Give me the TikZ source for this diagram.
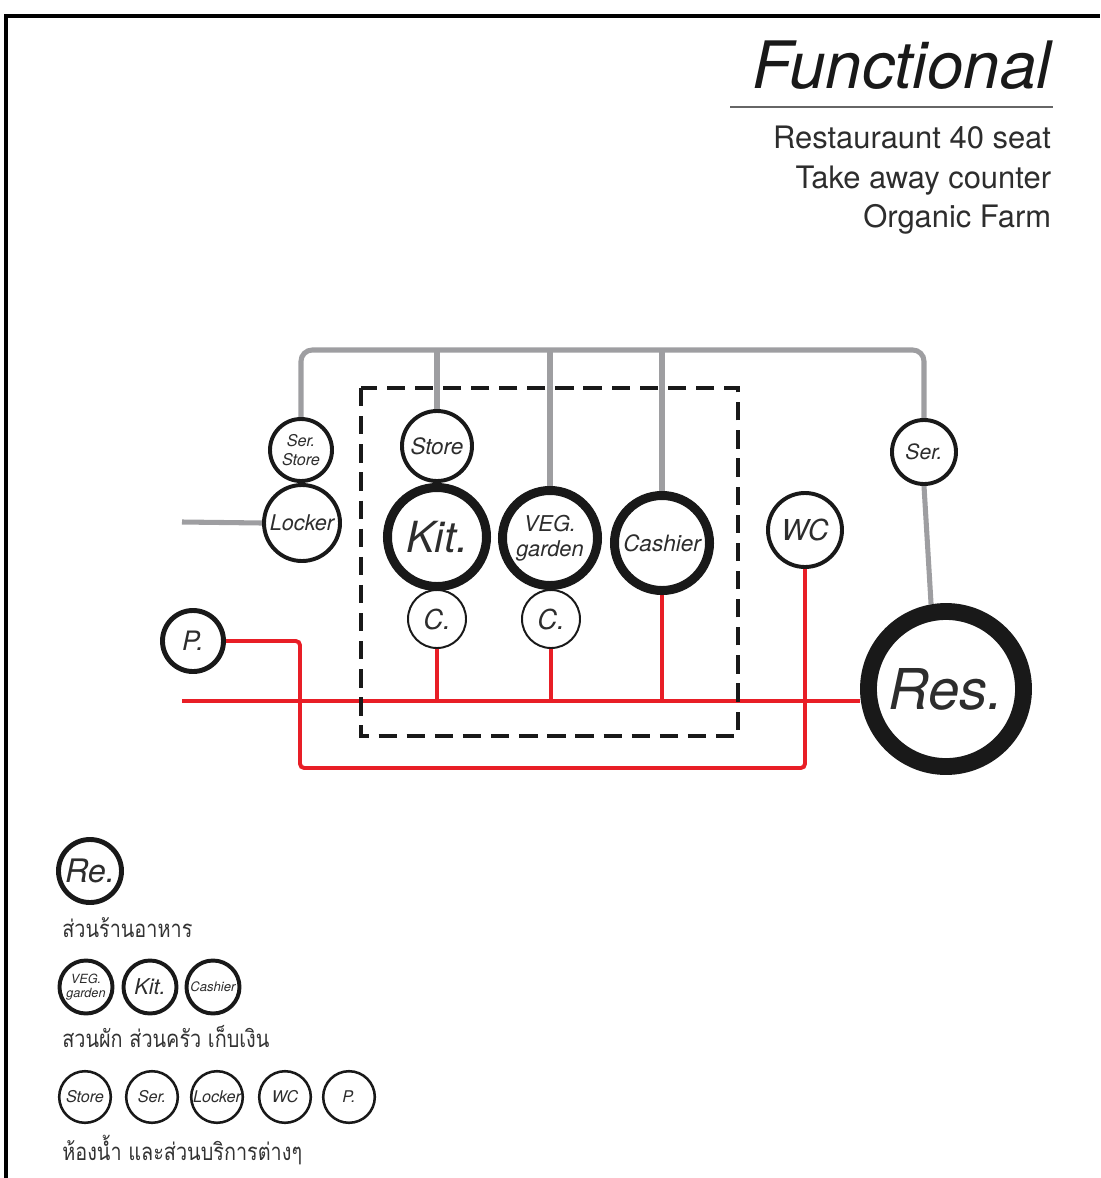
\documentclass[tikz,border=0pt]{standalone}
\usepackage{fontspec}
\setmainfont{TeX Gyre Heros}
\newfontfamily\thaifont[Script=Thai]{Loma}
\usetikzlibrary{backgrounds}
\definecolor{busgrey}{RGB}{158,158,161}
\definecolor{linkred}{RGB}{232,30,38}
\definecolor{inkgrey}{RGB}{45,45,45}
\newcommand{\fsz}[1]{\fontsize{#1}{#1}\selectfont}
\newcommand{\thainarrow}[1]{\scalebox{0.83}[1]{#1}}

\begin{document}
\begin{tikzpicture}[x=0.025cm, y=-0.025cm,
    zone/.style={circle, draw=black!90, fill=white, inner sep=0pt, text=inkgrey, align=center},
    ring/.style={zone, line width=2.8pt},
    fatring/.style={zone, line width=6.4pt},
    thinring/.style={zone, line width=1.4pt},
    bus/.style={draw=busgrey, line width=3.6pt, rounded corners=8pt},
    pipe/.style={draw=linkred, line width=2.8pt, rounded corners=3pt},
    thai/.style={anchor=base west, inner sep=0pt, text=black!80, font=\thaifont\fsz{17}}
  ]
  \useasboundingbox (0,0) rectangle (1100,1178);

  % frame
  \draw[black, line width=2.6pt] (6,1178) -- (6,16) -- (1100,16);

  % heading
  \node[anchor=base east, font=\fsz{46.5}\itshape, text=black!90] (title) at (1056,88) {Functional};
  \draw[black!60, line width=0.9pt] (730,107) -- (1053,107);
  \node[anchor=base east, font=\fsz{22}, text=inkgrey] (sub1) at (1056,148) {Restauraunt 40 seat};
  \node[anchor=base east, font=\fsz{22}, text=inkgrey] (sub2) at (1056,188) {Take away counter};
  \node[anchor=base east, font=\fsz{22}, text=inkgrey] (sub3) at (1056,227) {Organic Farm};

  % kitchen zone
  \draw[black!90, line width=2.4pt, dash pattern=on 13pt off 7pt] (361,388) rectangle (738,736);

  % zones
  \node[ring, minimum size=1.55cm, font=\fontsize{11.5}{14}\selectfont\itshape] (serstore) at (301,450) {Ser.\\Store};
  \node[ring, minimum size=1.9cm, font=\fsz{15.4}\itshape] (locker) at (302,523) {Locker};
  \node[ring, minimum size=1.75cm, font=\fsz{16}\itshape] (store) at (437,446) {Store};
  \node[fatring, minimum size=2.475cm, font=\fsz{30.5}\itshape] (kit) at (437,537) {Kit.};
  \node[fatring, minimum size=2.375cm, font=\fontsize{15.5}{18}\selectfont\itshape] (veg) at (550,538) {VEG.\\garden};
  \node[fatring, minimum size=2.375cm, font=\fsz{16}\itshape] (cashier) at (662,543) {Cashier};
  \node[thinring, minimum size=1.45cm, font=\fsz{19.5}\itshape] (kc) at (437,619) {C.};
  \node[thinring, minimum size=1.45cm, font=\fsz{19.5}\itshape] (vc) at (551,619) {C.};
  \node[ring, minimum size=1.85cm, font=\fsz{20.5}\itshape] (wc) at (805,530) {WC};
  \node[ring, minimum size=1.6cm, font=\fsz{15}\itshape] (ser) at (924,452) {Ser.};
  \node[zone, line width=12pt, minimum size=3.875cm, font=\fsz{40}\itshape] (res) at (946,689) {Res.};
  \node[zone, line width=3.5pt, minimum size=1.525cm, font=\fsz{19}\itshape] (p) at (193,641) {P.};

  \coordinate (busy) at (0,350);
  \coordinate (lockend) at (182,522);
  \coordinate (mainW) at (182,701);
  \coordinate (ploop) at (300,768);

  \begin{scope}[on background layer]
    % service links
    \draw[bus] (serstore.north) -- (serstore.north |- busy) -- (ser.north |- busy) -- (ser.north);
    \draw[bus] (store.north) -- (store.north |- busy);
    \draw[bus] (veg.north) -- (veg.north |- busy);
    \draw[bus] (cashier.north) -- (cashier.north |- busy);
    \draw[bus] (ser.south) -- (res.100);
    \draw[bus] (locker.west) -- (lockend);
    % red links
    \draw[pipe] (mainW) -- (mainW -| res.west);
    \draw[pipe] (kc.south) -- (kc.south |- mainW);
    \draw[pipe] (vc.south) -- (vc.south |- mainW);
    \draw[pipe] (cashier.south) -- (cashier.south |- mainW);
    \draw[pipe] (p.east) -| (ploop) -| (wc.south);
  \end{scope}

  % legend
  \node[zone, line width=3.5pt, minimum size=1.575cm, font=\fsz{23}\itshape] (lre) at (90,871) {Re.};
  \node[thai] (tre) at (62,937) {\thainarrow{ส่วนร้านอาหาร}};

  \node[zone, line width=2.8pt, minimum size=1.325cm, font=\fontsize{9}{10}\selectfont\itshape] (lveg) at (86,987) {VEG.\\garden};
  \node[zone, line width=2.8pt, minimum size=1.325cm, font=\fsz{15.5}\itshape] (lkit) at (150,987) {Kit.};
  \node[zone, line width=2.8pt, minimum size=1.325cm, font=\fsz{9.3}\itshape] (lcash) at (213,987) {Cashier};
  \node[thai] (tkit) at (62,1047) {\thainarrow{สวนผัก ส่วนครัว เก็บเงิน}};

  \foreach \t/\x [count=\i] in {Store/85, Ser./152, Locker/217, WC/285, P./349}
    \node[zone, line width=1.8pt, minimum size=1.29cm, font=\fsz{11.5}\itshape] (lsv\i) at (\x,1097) {\t};
  \node[thai] (tsv) at (62,1160) {\thainarrow{ห้องน้ำ และส่วนบริการต่างๆ}};
\end{tikzpicture}
\end{document}
